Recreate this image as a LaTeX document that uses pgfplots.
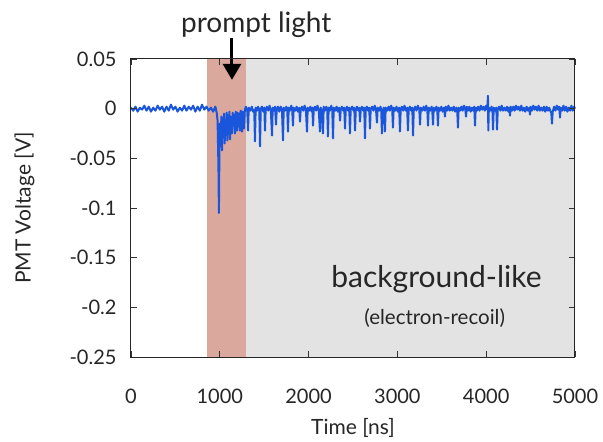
\documentclass[border=0pt]{standalone}
\usepackage{pgfplots}
\pgfplotsset{compat=1.18}
\usepackage{fontspec}
\setmainfont{Lato}
\usetikzlibrary{arrows.meta}
\definecolor{wave}{RGB}{26,86,220}
\definecolor{promptband}{RGB}{219,168,158}
\definecolor{bgband}{RGB}{227,227,227}
\begin{document}
\begin{tikzpicture}
\path[use as bounding box] (-131pt,-85pt) rectangle (472pt,357pt);
\begin{axis}[
  at={(0,0)}, anchor=south west,
  scale only axis, width=444pt, height=298pt,
  xmin=0, xmax=5000, ymin=-0.25, ymax=0.05,
  xtick={0,1000,2000,3000,4000,5000},
  xticklabels={0,1000,2000,3000,4000,5000},
  ytick={-0.25,-0.2,-0.15,-0.1,-0.05,0,0.05},
  yticklabels={-0.25,-0.2,-0.15,-0.1,-0.05,0,0.05},
  tick align=inside, major tick length=6pt,
  tick style={black!80, line width=0.8pt},
  axis line style={black!85, line width=1pt},
  ticklabel style={font=\fontsize{20}{24}\selectfont, text=black!85},
  yticklabel style={xshift=-11pt},
  xticklabel style={yshift=-28pt},
  xlabel={Time [ns]}, ylabel={PMT Voltage [V]},
  label style={font=\fontsize{21}{25}\selectfont, text=black!85},
  xlabel style={at={(axis description cs:0.5,-0.238)}, anchor=center},
  ylabel style={at={(axis description cs:-0.240,0.5)}, anchor=center},
  clip=false, axis on top,
]
\fill[bgband] (axis cs:1295,-0.25) rectangle (axis cs:5000,0.05);
\fill[promptband] (axis cs:856,-0.25) rectangle (axis cs:1295,0.05);
\addplot[wave, line width=2pt, line join=round] coordinates {
(0,0.001) (25,-0.002) (50,0.002) (75,-0.003) (100,0.001) (125,-0.001) (150,0.003) (175,-0.002)
(200,0.002) (225,-0.003) (250,0.001) (275,-0.002) (300,0.003) (325,-0.001) (350,0.002) (375,-0.003)
(400,0.002) (425,-0.002) (450,0.004) (475,-0.001) (500,0.002) (525,-0.003) (550,0.001) (575,-0.002)
(600,0.003) (625,-0.002) (650,0.002) (675,-0.001) (700,0.003) (725,-0.003) (750,0.002) (775,-0.002)
(800,0.004) (825,-0.001) (850,0.002) (875,-0.002) (900,0.001) (925,-0.003) (950,0.002) (965,-0.004)
(975,-0.012) (985,-0.060) (990,-0.105) (995,-0.050) (1000,-0.015) (1010,-0.030) (1018,-0.008)
(1025,-0.042) (1032,-0.010) (1040,-0.020) (1048,-0.005) (1055,-0.035) (1062,-0.012) (1070,-0.024)
(1078,-0.004) (1085,-0.032) (1092,-0.010) (1100,-0.018) (1108,-0.003) (1115,-0.031) (1122,-0.008)
(1130,-0.020) (1137,-0.025) (1145,-0.004) (1152,-0.017) (1160,-0.006) (1171,-0.025) (1180,-0.003)
(1188,-0.015) (1194,-0.022) (1202,-0.004) (1212,-0.018) (1220,-0.005) (1227,-0.022) (1236,-0.002)
(1244,-0.012) (1250,-0.023) (1258,-0.003) (1266,-0.010) (1273,-0.020) (1282,-0.001) (1295,0.002)
(1310,-0.003) (1318,-0.022) (1326,0.001) (1345,-0.002) (1360,0.002) (1375,-0.003) (1388,-0.001)
(1396,-0.033) (1404,0.001) (1420,-0.002) (1432,0.002) (1445,-0.002) (1453,-0.038) (1461,0.000)
(1475,0.002) (1490,-0.003) (1502,0.001) (1509,-0.022) (1516,-0.002) (1530,0.002) (1545,-0.002)
(1560,0.003) (1575,-0.002) (1588,-0.027) (1596,0.001) (1610,-0.002) (1622,0.002) (1633,-0.016)
(1641,-0.001) (1655,0.002) (1670,-0.003) (1685,0.002) (1700,-0.001) (1712,-0.032) (1720,0.001)
(1735,-0.002) (1750,0.002) (1760,-0.002) (1768,-0.023) (1776,0.001) (1790,-0.002) (1805,0.003)
(1816,-0.002) (1824,-0.017) (1832,0.001) (1850,-0.002) (1865,0.002) (1880,-0.003) (1895,0.001)
(1903,-0.013) (1911,-0.001) (1925,0.002) (1940,-0.002) (1955,0.003) (1970,-0.002) (1982,-0.023)
(1990,0.001) (2005,-0.002) (2020,0.002) (2035,-0.003) (2043,0.001) (2050,-0.017) (2058,-0.001)
(2072,0.002) (2085,-0.002) (2100,0.003) (2115,-0.002) (2128,-0.023) (2136,0.001) (2150,-0.002)
(2162,-0.025) (2170,0.002) (2185,-0.002) (2200,0.002) (2210,-0.001) (2218,-0.028) (2226,0.001)
(2240,-0.002) (2255,0.003) (2267,-0.002) (2275,-0.030) (2283,0.001) (2300,-0.002) (2315,0.002)
(2330,-0.003) (2345,0.001) (2354,-0.012) (2362,-0.001) (2375,0.002) (2390,-0.002) (2402,0.001)
(2410,-0.020) (2418,-0.002) (2432,0.002) (2445,-0.002) (2458,0.001) (2466,-0.025) (2474,-0.001)
(2490,0.002) (2505,-0.002) (2515,0.001) (2523,-0.022) (2531,-0.002) (2545,0.002) (2560,-0.002)
(2571,0.001) (2579,-0.013) (2587,-0.001) (2600,0.002) (2615,-0.002) (2627,0.001) (2635,-0.030)
(2643,-0.001) (2655,0.002) (2670,-0.002) (2683,0.001) (2691,-0.020) (2699,-0.001) (2715,0.002)
(2730,-0.002) (2745,0.003) (2760,-0.002) (2770,-0.014) (2778,0.001) (2795,-0.002) (2810,0.002)
(2818,-0.002) (2826,-0.025) (2834,-0.003) (2845,0.001) (2852,-0.002) (2860,-0.023) (2868,0.001)
(2885,-0.002) (2900,0.002) (2915,-0.002) (2930,0.003) (2942,-0.001) (2950,-0.019) (2958,0.001)
(2975,-0.002) (2990,0.002) (3005,-0.003) (3020,0.001) (3029,-0.023) (3037,-0.001) (3050,0.002)
(3065,-0.002) (3080,0.003) (3095,-0.002) (3110,0.001) (3119,-0.022) (3127,-0.001) (3140,0.002)
(3155,-0.002) (3168,0.001) (3176,-0.027) (3184,-0.002) (3200,0.002) (3215,-0.002) (3230,0.003)
(3247,-0.001) (3255,-0.016) (3263,0.001) (3280,-0.002) (3295,0.002) (3310,-0.002) (3325,0.003)
(3337,-0.001) (3345,-0.017) (3353,0.001) (3370,-0.002) (3385,0.002) (3393,-0.002) (3401,-0.016)
(3409,0.001) (3425,-0.002) (3440,0.002) (3449,-0.001) (3457,-0.017) (3465,0.001) (3480,-0.002)
(3495,0.002) (3510,-0.003) (3525,0.001) (3536,-0.008) (3545,0.002) (3560,-0.002) (3575,0.003)
(3590,-0.002) (3605,0.001) (3620,-0.002) (3635,0.002) (3650,-0.003) (3665,0.001) (3674,-0.002)
(3682,-0.019) (3690,0.001) (3705,-0.002) (3720,0.002) (3735,-0.002) (3750,0.003) (3765,-0.001)
(3773,-0.008) (3781,0.002) (3795,-0.002) (3810,0.002) (3825,-0.003) (3840,0.001) (3855,-0.002)
(3866,0.002) (3874,-0.017) (3882,0.001) (3895,-0.002) (3910,0.002) (3925,-0.002) (3940,0.003)
(3955,-0.001) (3970,0.002) (3985,-0.002) (4000,0.003) (4012,-0.001) (4020,0.013) (4024,-0.022)
(4030,0.001) (4045,-0.002) (4060,0.002) (4070,-0.001) (4077,-0.021) (4085,0.001) (4100,-0.002)
(4114,0.001) (4122,-0.021) (4130,-0.001) (4145,0.002) (4160,-0.002) (4175,0.003) (4190,-0.002)
(4205,0.001) (4220,-0.002) (4235,0.002) (4250,-0.003) (4260,0.001) (4268,-0.007) (4276,0.002)
(4290,-0.002) (4305,0.002) (4320,-0.002) (4335,0.003) (4350,-0.001) (4365,0.002) (4380,-0.002)
(4395,0.003) (4410,-0.002) (4425,0.001) (4440,-0.003) (4455,0.002) (4470,-0.002) (4485,0.001)
(4493,-0.006) (4501,0.002) (4515,-0.002) (4530,0.003) (4545,-0.001) (4560,0.002) (4575,-0.002)
(4590,0.003) (4605,-0.002) (4620,0.001) (4635,-0.002) (4650,0.002) (4665,-0.003) (4680,0.002)
(4695,-0.002) (4710,0.001) (4725,-0.003) (4733,-0.004) (4741,-0.015) (4749,-0.003) (4765,0.002)
(4780,-0.002) (4795,0.003) (4810,-0.001) (4823,0.002) (4831,-0.009) (4839,0.001) (4855,-0.002)
(4870,0.003) (4885,-0.002) (4900,0.002) (4915,-0.003) (4930,0.001) (4945,-0.002) (4960,0.003)
(4975,-0.002) (4990,0.002) (5000,0.000)
};
\draw[black, line width=3pt, -{Triangle[length=16pt,width=18pt]}] (axis cs:1137,0.0711) -- (axis cs:1137,0.029);
\node[font=\fontsize{28}{33}\selectfont, text=black!85] at (axis cs:1410,0.084) {prompt light};
\node[font=\fontsize{30}{36}\selectfont, text=black!85] at (axis cs:3440,-0.172) {background-like};
\node[font=\fontsize{20.5}{25}\selectfont, text=black!85] at (axis cs:3420,-0.2106) {(electron-recoil)};
\end{axis}
\end{tikzpicture}
\end{document}
